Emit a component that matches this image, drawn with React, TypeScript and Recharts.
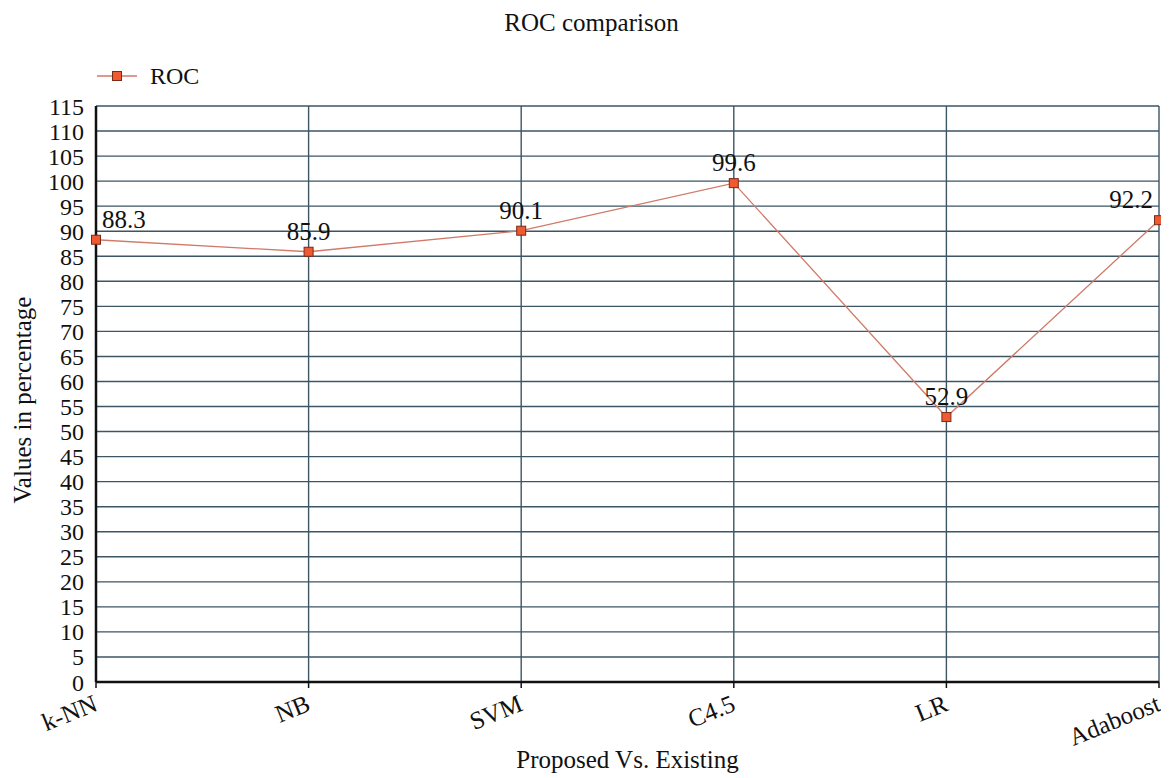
import React from "react";
import { LineChart, Line, XAxis, YAxis, CartesianGrid, LabelList, Label } from "recharts";

const categories = ["k-NN", "NB", "SVM", "C4.5", "LR", "Adaboost"];
const rocValues = [88.3, 85.9, 90.1, 99.6, 52.9, 92.2];
const yTicks = [0, 5, 10, 15, 20, 25, 30, 35, 40, 45, 50, 55, 60, 65, 70, 75, 80, 85, 90, 95, 100, 105, 110, 115];

const data = categories.map((name, i) => ({ name, ROC: rocValues[i] }));

const FONT = '"Liberation Serif", "Times New Roman", serif';
const LINE_COLOR = "#d07a68";
const MARKER_FILL = "#f05a30";
const MARKER_STROKE = "#7a2a18";
const GRID_COLOR = "#3d5565";

const W = 1161;
const H = 770;

const SquareDot = (props: any) => {
  const { cx, cy } = props;
  if (cx == null || cy == null) return null;
  return <rect x={cx - 4.5} y={cy - 4.5} width={9} height={9} fill={MARKER_FILL} stroke={MARKER_STROKE} strokeWidth={1} />;
};

const XTick = (props: any) => {
  const { x, y, payload } = props;
  const ax = x + 3;
  const ay = y + 20;
  return (
    <text x={ax} y={ay} textAnchor="end" style={{ fontFamily: FONT }} fontSize={25} fill="#111" transform={`rotate(-22, ${ax}, ${ay})`}>
      {payload.value}
    </text>
  );
};

const ValueLabel = (props: any) => {
  const { x, y, value, index } = props;
  let anchor: "start" | "middle" | "end" = "middle";
  let tx = x;
  if (index === 0) {
    anchor = "start";
    tx = x + 6;
  } else if (index === categories.length - 1) {
    anchor = "end";
    tx = x - 6;
  }
  return (
    <text x={tx} y={y - 12} textAnchor={anchor} style={{ fontFamily: FONT }} fontSize={25} fill="#111">
      {value}
    </text>
  );
};

const YAxisTitle = (props: any) => {
  const vb = props.viewBox || { x: 0, y: 0, width: 0, height: 0 };
  const tx = 23;
  const ty = vb.y + vb.height / 2 + 6;
  return (
    <text x={tx} y={ty} textAnchor="middle" style={{ fontFamily: FONT }} fontSize={25} fill="#111" transform={`rotate(-90, ${tx}, ${ty})`}>
      Values in percentage
    </text>
  );
};

const XAxisTitle = (props: any) => {
  const vb = props.viewBox || { x: 0, y: 0, width: 0, height: 0 };
  return (
    <text x={vb.x + vb.width / 2} y={760} textAnchor="middle" style={{ fontFamily: FONT }} fontSize={25} fill="#111">
      Proposed Vs. Existing
    </text>
  );
};

export default function App() {
  return (
    <div style={{ position: "relative", width: W, height: H, background: "#fff", fontFamily: FONT }}>
      <div
        style={{
          position: "absolute",
          left: 0,
          top: 0,
          width: W,
          textAlign: "center",
          fontSize: 25,
          lineHeight: "25px",
          paddingTop: 2,
          color: "#111",
          paddingLeft: 6,
          boxSizing: "border-box",
        }}
      >
        ROC comparison
      </div>
      <div style={{ position: "absolute", left: 89, top: 55, height: 26, display: "flex", alignItems: "center" }}>
        <svg width={41} height={14} style={{ display: "block" }}>
          <line x1={0} y1={7} x2={40} y2={7} stroke={LINE_COLOR} strokeWidth={1.5} />
          <rect x={15.5} y={2.5} width={9} height={9} fill={MARKER_FILL} stroke={MARKER_STROKE} strokeWidth={1} />
        </svg>
        <span style={{ marginLeft: 12, fontSize: 24, color: "#111", lineHeight: "26px" }}>ROC</span>
      </div>
      <div style={{ position: "absolute", left: 0, top: 0 }}>
        <LineChart width={W} height={H} data={data} margin={{ top: 98, right: 10, left: 0, bottom: 0 }} style={{ fontFamily: FONT }}>
          <CartesianGrid stroke={GRID_COLOR} strokeWidth={1.4} vertical={true} horizontal={true} />
          <XAxis
            dataKey="name"
            height={96}
            interval={0}
            tick={<XTick />}
            tickLine={{ stroke: "#111", strokeWidth: 1.5 }}
            tickSize={6}
            axisLine={{ stroke: "#111", strokeWidth: 2.5 }}
          >
            <Label content={<XAxisTitle />} />
          </XAxis>
          <YAxis
            domain={[0, 115]}
            ticks={yTicks}
            interval={0}
            width={88}
            tickSize={6}
            tickMargin={6}
            tickLine={false}
            axisLine={{ stroke: "#111", strokeWidth: 2.5 }}
            tick={{ fontSize: 24, fill: "#111", fontFamily: FONT, style: { fontFamily: FONT } }}
          >
            <Label content={<YAxisTitle />} />
          </YAxis>
          <Line
            type="linear"
            dataKey="ROC"
            stroke={LINE_COLOR}
            strokeWidth={1.3}
            dot={<SquareDot />}
            activeDot={false}
            isAnimationActive={false}
          >
            <LabelList dataKey="ROC" content={<ValueLabel />} />
          </Line>
        </LineChart>
      </div>
    </div>
  );
}
